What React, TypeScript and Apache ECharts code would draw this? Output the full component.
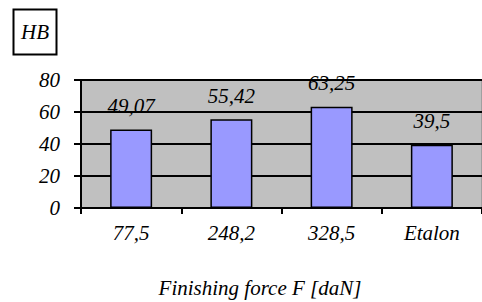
import React, { useEffect, useRef } from "react";
import * as echarts from "echarts";

const categories = ["77,5", "248,2", "328,5", "Etalon"];
const values = [49.07, 55.42, 63.25, 39.5];
const valueLabels = ["49,07", "55,42", "63,25", "39,5"];
const yTicks = { min: 0, max: 80, interval: 20 };

const FONT = "Liberation Serif";
const FS = 21;

export default function App() {
  const ref = useRef<HTMLDivElement>(null);
  useEffect(() => {
    if (!ref.current) return;
    const chart = echarts.init(ref.current, null, { renderer: "svg" });
    const txt = { fontFamily: FONT, fontStyle: "italic" as const, fontSize: FS, color: "#000" };
    chart.setOption({
      animation: false,
      backgroundColor: "#ffffff",
      textStyle: { fontFamily: FONT, fontStyle: "italic", color: "#000" },
      grid: {
        left: 81,
        right: -5,
        top: 80,
        bottom: 94,
        show: true,
        backgroundColor: "#c0c0c0",
        borderColor: "#808080",
        borderWidth: 1,
      },
      xAxis: {
        type: "category",
        data: categories,
        axisLine: { lineStyle: { color: "#000", width: 2 } },
        axisTick: { show: true, length: 6, lineStyle: { color: "#000", width: 2 } },
        axisLabel: { margin: 14, ...txt },
        splitLine: { show: false },
      },
      yAxis: {
        type: "value",
        min: yTicks.min,
        max: yTicks.max,
        interval: yTicks.interval,
        axisLine: { show: true, lineStyle: { color: "#000", width: 2 } },
        axisTick: { show: true, length: 7, lineStyle: { color: "#000", width: 2 } },
        axisLabel: { margin: 21, ...txt },
        splitLine: { show: true, lineStyle: { color: "#000", width: 2 } },
      },
      series: [
        {
          type: "bar",
          data: values,
          barWidth: 42,
          itemStyle: { color: "#9999ff", borderColor: "#000", borderWidth: 1.5 },
          label: {
            show: true,
            position: "top",
            distance: 13,
            ...txt,
            formatter: (p: any) => valueLabels[p.dataIndex],
          },
        },
      ],
      graphic: [
        {
          type: "rect",
          shape: { x: 13.5, y: 9.5, width: 43, height: 45 },
          style: { fill: "#fff", stroke: "#000", lineWidth: 2 },
        },
        {
          type: "text",
          x: 35,
          y: 32,
          style: {
            text: "HB",
            font: "italic " + FS + "px " + FONT,
            fill: "#000",
            align: "center",
            verticalAlign: "middle",
          },
        },
        {
          type: "text",
          x: 260,
          y: 288,
          style: {
            text: "Finishing force F [daN]",
            font: "italic " + FS + "px " + FONT,
            fill: "#000",
            align: "center",
            verticalAlign: "middle",
          },
        },
      ],
    });
    return () => chart.dispose();
  }, []);
  return (
    <div
      ref={ref}
      style={{ position: "absolute", left: 0, top: 0, width: 482, height: 302 }}
    />
  );
}
